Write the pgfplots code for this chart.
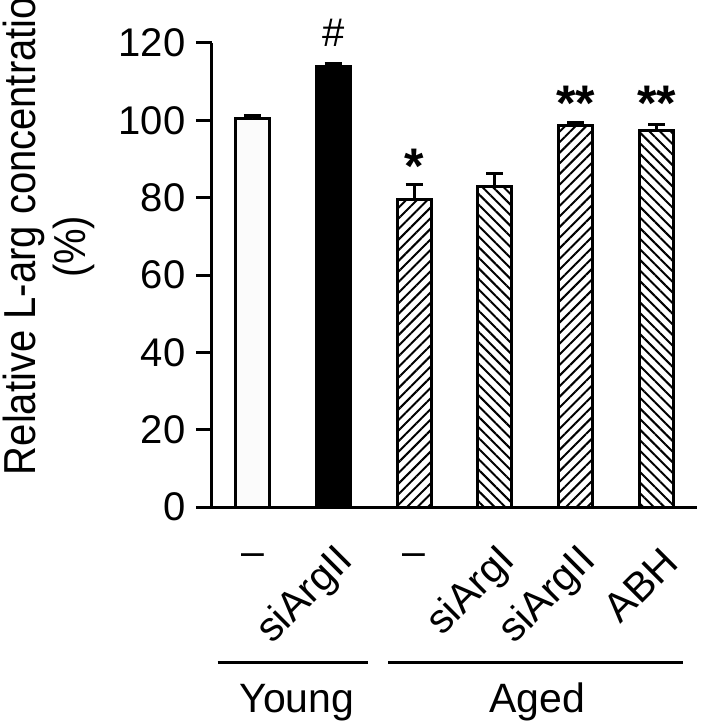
\documentclass[border=0pt]{standalone}
\usepackage{fontspec}
\setmainfont{Liberation Sans}
\usepackage{graphicx}
\usepackage{pgfplots}
\pgfplotsset{compat=1.18}
\usetikzlibrary{patterns.meta}
\begin{document}
\begin{tikzpicture}
\begin{axis}[
  scale only axis, width=485pt, height=464pt,
  xmin=-0.5, xmax=5.5, ymin=0, ymax=120,
  axis x line*=bottom, axis y line*=left,
  axis line style={line width=3pt, -},
  every tick/.style={line width=3pt, black},
  tick align=outside,
  ytick={0,20,...,120},
  major tick length=16pt,
  xtick={1,3,4,5},
  xticklabels={siArgII,siArgI,siArgII,ABH},
  x tick style={draw=none},
  minor xtick={-0.5,0.5,...,5.5},
  minor tick length=17pt,
  /pgf/number format/assume math mode=true,
  yticklabel style={font=\fontsize{40}{48}\selectfont, xshift=-7pt},
  xticklabel style={font=\fontsize{41}{49}\selectfont, xshift=14pt, yshift=-32pt, rotate=45, anchor=east, inner sep=0pt},
  ylabel={\scalebox{1}[1.12]{Relative L-arg concentration}\\\scalebox{1}[1.12]{(\%)}\hspace*{44pt}},
  ylabel style={align=center, font=\fontsize{40}{50}\selectfont, inner sep=0pt, at={([xshift=-209pt]rel axis cs:0,0.608)}, rotate=0, anchor=north},
  clip=false,
]
\addplot[ybar, bar shift=0pt, bar width=34pt, fill=gray!3, draw=black, line width=3pt,
  error bars/.cd, y dir=plus, y explicit, error bar style={line width=3pt}, error mark options={rotate=90, mark size=8.5pt, line width=3pt}]
  coordinates {(0,100.5) +- (0,0.8)};
\addplot[ybar, bar shift=0pt, bar width=34pt, fill=black, draw=black, line width=3pt,
  error bars/.cd, y dir=plus, y explicit, error bar style={line width=3pt}, error mark options={rotate=90, mark size=8.5pt, line width=3pt}]
  coordinates {(1,113.8) +- (0,0.9)};
\addplot[ybar, bar shift=0pt, bar width=34pt, draw=black, line width=3pt, pattern={Lines[angle=45, distance=7.5pt, line width=2pt]},
  error bars/.cd, y dir=plus, y explicit, error bar style={line width=3pt}, error mark options={rotate=90, mark size=8.5pt, line width=3pt}]
  coordinates {(2,79.6) +- (0,3.9)};
\addplot[ybar, bar shift=0pt, bar width=34pt, draw=black, line width=3pt, pattern={Lines[angle=-45, distance=7.5pt, line width=2pt]},
  error bars/.cd, y dir=plus, y explicit, error bar style={line width=3pt}, error mark options={rotate=90, mark size=8.5pt, line width=3pt}]
  coordinates {(3,83.0) +- (0,3.2)};
\addplot[ybar, bar shift=0pt, bar width=34pt, draw=black, line width=3pt, pattern={Lines[angle=45, distance=7.5pt, line width=2pt]},
  error bars/.cd, y dir=plus, y explicit, error bar style={line width=3pt}, error mark options={rotate=90, mark size=8.5pt, line width=3pt}]
  coordinates {(4,98.6) +- (0,0.8)};
\addplot[ybar, bar shift=0pt, bar width=34pt, draw=black, line width=3pt, pattern={Lines[angle=-45, distance=7.5pt, line width=2pt]},
  error bars/.cd, y dir=plus, y explicit, error bar style={line width=3pt}, error mark options={rotate=90, mark size=8.5pt, line width=3pt}]
  coordinates {(5,97.5) +- (0,1.3)};
% significance marks
\node[font=\fontsize{40}{48}\selectfont] at (axis cs:1,122.6) {\#};
\node[font=\bfseries\fontsize{50}{50}\selectfont] at (axis cs:2,88) {*};
\node[font=\bfseries\fontsize{50}{50}\selectfont] at (axis cs:4,104.5) {**};
\node[font=\bfseries\fontsize{50}{50}\selectfont] at (axis cs:5,104.5) {**};
% dash labels
\node[font=\fontsize{41}{49}\selectfont] at ([yshift=-53pt]axis cs:0,0) {--};
\node[font=\fontsize{41}{49}\selectfont] at ([yshift=-53pt]axis cs:2,0) {--};
% group lines
\draw[line width=3pt] ([yshift=-155pt]axis cs:-0.43,0) -- ([yshift=-155pt]axis cs:1.43,0);
\draw[line width=3pt] ([yshift=-155pt]axis cs:1.68,0) -- ([yshift=-155pt]axis cs:5.33,0);
\node[font=\fontsize{41}{49}\selectfont, anchor=base] at ([yshift=-205pt]axis cs:0.55,0) {Young};
\node[font=\fontsize{41}{49}\selectfont, anchor=base] at ([yshift=-205pt]axis cs:3.52,0) {Aged};
\end{axis}
\pgfresetboundingbox
\path (-212pt,-216pt) rectangle (508pt,507pt);
\end{tikzpicture}
\end{document}
